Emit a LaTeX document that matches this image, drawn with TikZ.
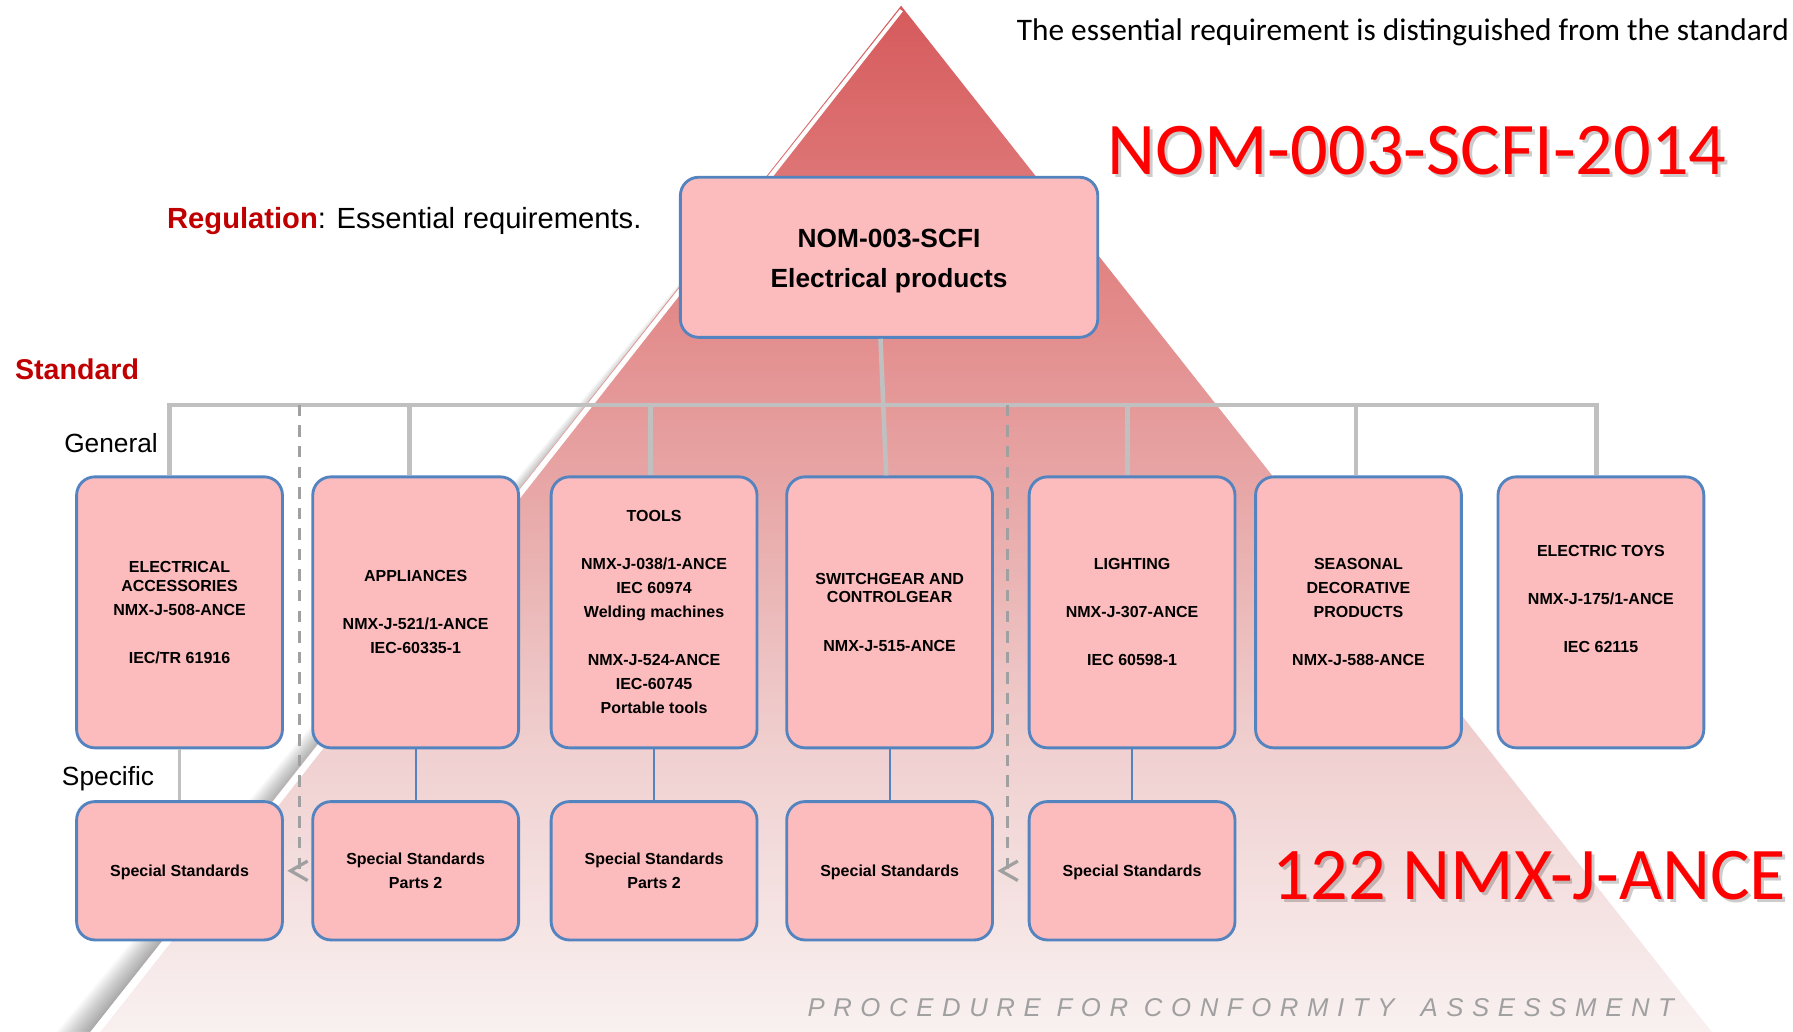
\documentclass[tikz,border=0pt]{standalone}
\usepackage{fontspec}
\setmainfont{Liberation Sans}
\newfontfamily\calib{Carlito}
\usetikzlibrary{arrows.meta}
\definecolor{boxfill}{RGB}{252,187,188}
\definecolor{boxline}{RGB}{84,132,192}
\definecolor{conngrey}{RGB}{192,192,192}
\definecolor{dashgrey}{RGB}{160,160,160}
\definecolor{regred}{RGB}{192,0,0}
\definecolor{titlered}{RGB}{255,0,0}
\definecolor{procgrey}{RGB}{160,160,160}
\definecolor{pc0}{RGB}{252,247,247}
\definecolor{pc1}{RGB}{248,238,238}
\definecolor{pc2}{RGB}{240,207,207}
\definecolor{pc3}{RGB}{231,162,162}
\definecolor{pc4}{RGB}{224,126,126}
\definecolor{pc5}{RGB}{214,90,92}
\pgfdeclareverticalshading{pyr}{100bp}{color(0bp)=(pc0); color(25bp)=(pc0); color(31bp)=(pc1); color(42.5bp)=(pc2); color(55bp)=(pc3); color(65bp)=(pc4); color(75bp)=(pc5); color(100bp)=(pc5)}
\begin{document}
\begin{tikzpicture}[x=1pt,y=-1pt,
  topbox/.style={rectangle, rounded corners=16pt, draw=boxline, line width=2.5pt,
    fill=boxfill, minimum width=180pt, minimum height=237pt, inner sep=0pt,
    align=center, font=\fontsize{14}{21}\selectfont\bfseries},
  subbox/.style={topbox, minimum height=121pt},
  nombox/.style={topbox, minimum width=365pt, minimum height=140pt,
    font=\fontsize{23}{35}\selectfont\bfseries},
  greyconn/.style={draw=conngrey, line width=4pt},
  thinconn/.style={draw=conngrey, line width=2pt},
  blueconn/.style={draw=boxline, line width=2pt},
  dashconn/.style={draw=dashgrey, line width=2.8pt, dash pattern=on 10pt off 8pt,
    shorten >=3pt, -{Straight Barb[length=15pt,width=17pt]}},
  sidelabel/.style={anchor=base west, inner sep=0pt},
  bigred/.style={anchor=base west, inner sep=0pt, text=titlered,
    font=\calib\fontsize{65}{70}\selectfont},
  bigshadow/.style={anchor=base west, inner sep=0pt, text=black, opacity=0.2,
    font=\calib\fontsize{65}{70}\selectfont}
]
\useasboundingbox (0,0) rectangle (1568,902);
\clip (0,0) rectangle (1568,902);
\fill[white] (0,0) rectangle (1568,902);

% pyramid shadow on the left edge (widening downwards)
\foreach \k in {1,...,16}
  \fill[black, opacity=0.022] (788,20) -- (2,1000) -- ([xshift=-2.1*\k pt]2,1000) -- ([xshift=-0.3*\k pt]788,20) -- cycle;
% pyramid
\shade[shading=pyr] (788,5) -- (2,1000) -- (1574,1000) -- cycle;
% white bevel along the left edge
\fill[white] (787,8) -- (2,1000) -- (11,1000) -- (789.5,10) -- cycle;

% texts
\node[sidelabel, font=\calib\fontsize{27.4}{30}\selectfont] (note) at (889,35)
  {The essential requirement is distinguished from the standard};
\node[bigshadow] (titleS) at (970.5,155.5) {NOM-003-SCFI-2014};
\node[bigred] (title) at (968,153) {NOM-003-SCFI-2014};
\node[bigshadow] (countS) at (1115.5,789.5) {122 NMX-J-ANCE};
\node[bigred] (count) at (1113,787) {122 NMX-J-ANCE};
\node[sidelabel, font=\fontsize{25.5}{30}\selectfont] (reg) at (146,200)
  {\textcolor{regred}{\bfseries Regulation}: Essential requirements.};
\node[sidelabel, font=\fontsize{25}{30}\selectfont\bfseries, text=regred] (std) at (13,332) {Standard};
\node[sidelabel, font=\fontsize{23}{28}\selectfont] (gen) at (56,396) {General};
\node[sidelabel, font=\fontsize{23}{28}\selectfont] (spec) at (54,687) {Specific};
\node[sidelabel, font=\fontsize{22.5}{26}\selectfont\itshape, text=procgrey] (proc) at (706,889)
  {\addfontfeature{LetterSpace=33.5}PROCEDURE FOR CONFORMITY\hspace{9pt} ASSESSMENT};

% boxes
\node[nombox] (nom) at (777.5,225) {\rule{0pt}{22pt}NOM-003-SCFI\\Electrical products};

\node[topbox] (b1) at (157,535.5) {ELECTRICAL\\[-4pt]ACCESSORIES\\NMX-J-508-ANCE\\[21pt]IEC/TR 61916};
\node[topbox] (b2) at (363.5,535.5) {APPLIANCES\\[21pt]NMX-J-521/1-ANCE\\IEC-60335-1};
\node[topbox] (b3) at (572,535.5) {TOOLS\\[21pt]NMX-J-038/1-ANCE\\IEC 60974\\Welding machines\\[21pt]NMX-J-524-ANCE\\IEC-60745\\Portable tools};
\node[topbox] (b4) at (778,535.5) {SWITCHGEAR AND\\[-5pt]CONTROLGEAR\\[21pt]NMX-J-515-ANCE};
\node[topbox] (b5) at (990,535.5) {LIGHTING\\[21pt]NMX-J-307-ANCE\\[21pt]IEC 60598-1};
\node[topbox] (b6) at (1188,535.5) {SEASONAL\\DECORATIVE\\PRODUCTS\\[21pt]NMX-J-588-ANCE};
\node[topbox] (b7) at (1400,535.5) {ELECTRIC TOYS\\[21pt]NMX-J-175/1-ANCE\\[21pt]IEC 62115\\[2pt]\mbox{}};

\node[subbox] (s1) at (157,761.5) {\rule{0pt}{13.5pt}Special Standards};
\node[subbox] (s2) at (363.5,761.5) {Special Standards\\Parts 2};
\node[subbox] (s3) at (572,761.5) {Special Standards\\Parts 2};
\node[subbox] (s4) at (778,761.5) {\rule{0pt}{13.5pt}Special Standards};
\node[subbox] (s5) at (990,761.5) {\rule{0pt}{13.5pt}Special Standards};

% tree connectors
\coordinate (barL) at (148,354);
\coordinate (barR) at (1396,354);
\coordinate (d1) at (262,354);
\coordinate (d2) at (881,354);
\draw[greyconn] ([xshift=-9pt]b1.north) -- (barL) -- (barR) -- ([xshift=-4pt]b7.north);
\draw[greyconn] ([xshift=-5.5pt]b2.north) -- ([xshift=-5.5pt]b2.north |- barL);
\draw[greyconn] ([xshift=-3pt]b3.north) -- ([xshift=-3pt]b3.north |- barL);
\draw[greyconn] ([xshift=-4pt]b5.north) -- ([xshift=-4pt]b5.north |- barL);
\draw[greyconn] ([xshift=-2pt]b6.north) -- ([xshift=-2pt]b6.north |- barL);
\draw[greyconn] ([xshift=-7.5pt]nom.south) -- ([xshift=-3pt]b4.north);

\draw[dashconn] (d1) |- (s1.east);
\draw[dashconn] (d2) |- (s4.east);

\draw[thinconn] (b1.south) -- (s1.north);
\draw[blueconn] (b2.south) -- (s2.north);
\draw[blueconn] (b3.south) -- (s3.north);
\draw[blueconn] (b4.south) -- (s4.north);
\draw[blueconn] (b5.south) -- (s5.north);
\end{tikzpicture}
\end{document}
